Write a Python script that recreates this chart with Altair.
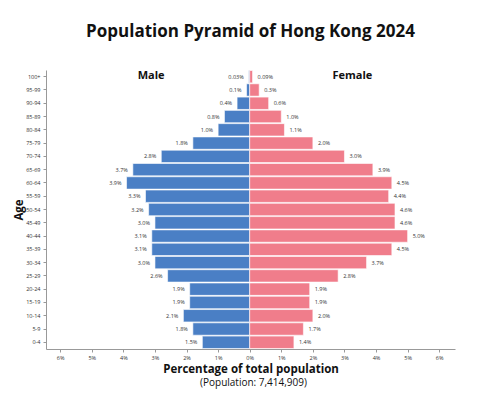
import altair as alt
import pandas as pd

ages = ["100+", "95-99", "90-94", "85-89", "80-84", "75-79", "70-74", "65-69", "60-64",
        "55-59", "50-54", "45-49", "40-44", "35-39", "30-34", "25-29", "20-24", "15-19",
        "10-14", "5-9", "0-4"]
male = [0.03, 0.1, 0.4, 0.8, 1.0, 1.8, 2.8, 3.7, 3.9, 3.3, 3.2, 3.0, 3.1, 3.1, 3.0, 2.6,
        1.9, 1.9, 2.1, 1.8, 1.5]
female = [0.09, 0.3, 0.6, 1.0, 1.1, 2.0, 3.0, 3.9, 4.5, 4.4, 4.6, 4.6, 5.0, 4.5, 3.7, 2.8,
          1.9, 1.9, 2.0, 1.7, 1.4]
male_labels = ["0.03%", "0.1%", "0.4%", "0.8%", "1.0%", "1.8%", "2.8%", "3.7%", "3.9%", "3.3%",
               "3.2%", "3.0%", "3.1%", "3.1%", "3.0%", "2.6%", "1.9%", "1.9%", "2.1%", "1.8%", "1.5%"]
female_labels = ["0.09%", "0.3%", "0.6%", "1.0%", "1.1%", "2.0%", "3.0%", "3.9%", "4.5%", "4.4%",
                 "4.6%", "4.6%", "5.0%", "4.5%", "3.7%", "2.8%", "1.9%", "1.9%", "2.0%", "1.7%", "1.4%"]
x_ticks = [-6, -5, -4, -3, -2, -1, 0, 1, 2, 3, 4, 5, 6]
sex_names = ["Male", "Female"]
sex_label_pos = [-3.12, 3.25]

FONT = "Open Sans"
BLUE = "#4a7fc5"
PINK = "#f07d8b"
W, H = 409, 279

rows = []
for a, m, f, ml, fl in zip(ages, male, female, male_labels, female_labels):
    rows.append({"age": a, "sex": "Male", "value": -m, "label": ml})
    rows.append({"age": a, "sex": "Female", "value": f, "label": fl})
df = pd.DataFrame(rows)
hdr = pd.DataFrame({"sex": sex_names, "value": sex_label_pos, "age": ["100+", "100+"]})

xscale = alt.Scale(domain=[-6.45, 6.5], nice=False, zero=False)
yscale = alt.Scale(domain=ages, paddingInner=0.07, paddingOuter=0.04)

x_axis = alt.Axis(values=x_ticks, labelExpr="abs(datum.value) + '%'",
                  title="Percentage of total population",
                  titleFont=FONT, titleFontSize=11.5, titleFontWeight="bold",
                  titleColor="#111", titlePadding=3,
                  labelFont=FONT, labelFontSize=5.5, labelColor="#333",
                  labelOverlap=False, labelBound=False, labelFlush=False,
                  tickSize=3, tickColor="#999", domainColor="#999",
                  labelPadding=3, grid=False)
y_axis = alt.Axis(title="Age", titleFont=FONT, titleFontSize=11.5,
                  titleFontWeight="bold", titleColor="#111", titlePadding=1,
                  labelFont=FONT, labelFontSize=5.5, labelColor="#333",
                  labelOverlap=False,
                  tickSize=3, tickColor="#999", domainColor="#999",
                  labelPadding=3, grid=False)

x_enc = alt.X("value:Q", scale=xscale, axis=x_axis)
y_enc = alt.Y("age:N", scale=yscale, sort=ages, axis=y_axis)

bars = alt.Chart(df).mark_bar(stroke="white", strokeWidth=0.6).encode(
    x=x_enc, y=y_enc,
    color=alt.Color("sex:N", scale=alt.Scale(domain=sex_names, range=[BLUE, PINK]), legend=None),
)

male_text = alt.Chart(df).transform_filter("datum.sex == 'Male'").mark_text(
    align="right", baseline="middle", dx=-5, font=FONT, fontSize=5.5, color="#333"
).encode(x=x_enc, y=y_enc, text="label:N")

female_text = alt.Chart(df).transform_filter("datum.sex == 'Female'").mark_text(
    align="left", baseline="middle", dx=5, font=FONT, fontSize=5.5, color="#333"
).encode(x=x_enc, y=y_enc, text="label:N")

headers = alt.Chart(hdr).mark_text(
    font=FONT, fontSize=11, fontWeight="bold", color="#111", baseline="middle", dy=-1
).encode(x=x_enc, y=y_enc, text="sex:N")

subtitle = alt.Chart(hdr.head(1)).mark_text(
    font=FONT, fontSize=10, color="#111", baseline="middle"
).encode(x=alt.value(W / 2 + 3), y=alt.value(H + 34), text=alt.value("(Population: 7,414,909)"))

chart = alt.layer(bars, male_text, female_text, headers, subtitle).properties(
    width=W, height=H,
    title=alt.TitleParams("Population Pyramid of Hong Kong 2024", font=FONT, fontSize=17,
                          fontWeight="bold", color="#111", anchor="middle", offset=29),
    autosize=alt.AutoSizeParams(type="none"),
    padding={"left": 38, "top": 62, "right": 37, "bottom": 41},
).configure_view(stroke=None)

chart.save("out.html", embed_options={"renderer": "svg", "actions": False})
